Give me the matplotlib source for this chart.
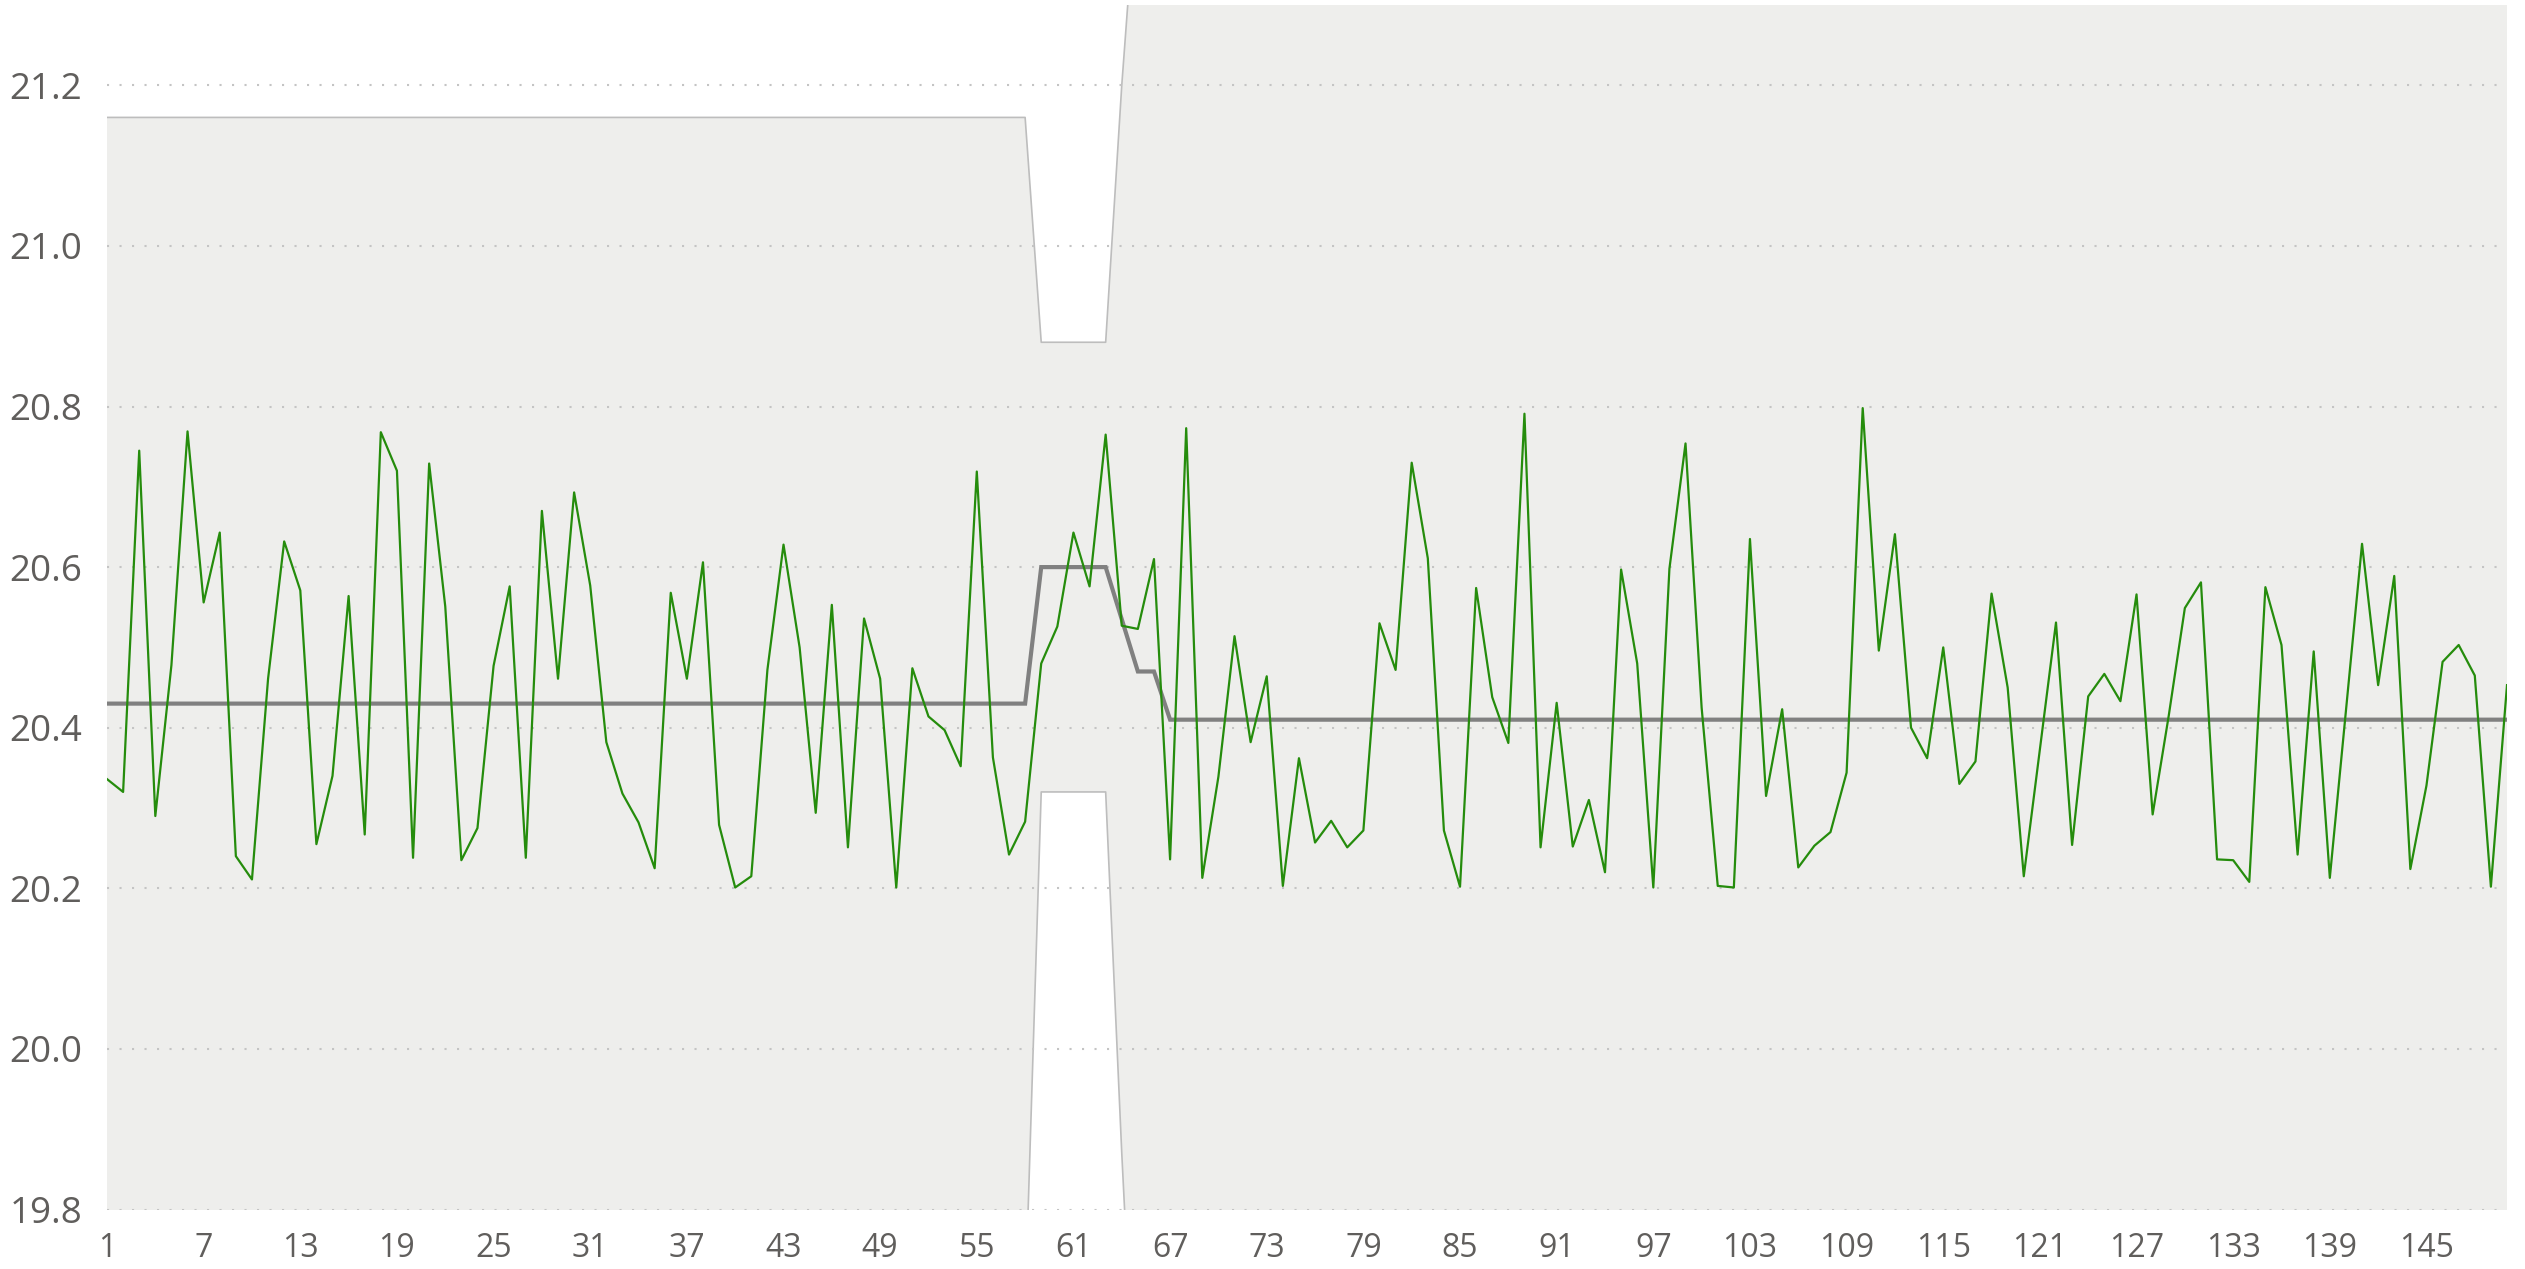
import matplotlib
matplotlib.use("Agg")
import matplotlib.pyplot as plt
from matplotlib.ticker import FixedLocator, FormatStrFormatter

# ---- data ----
values = [
    20.336, 20.320, 20.745, 20.290, 20.478, 20.769, 20.556, 20.643, 20.240, 20.211,
    20.461, 20.632, 20.571, 20.255, 20.340, 20.564, 20.267, 20.768, 20.720, 20.238,
    20.729, 20.551, 20.235, 20.275, 20.477, 20.576, 20.238, 20.670, 20.461, 20.693,
    20.577, 20.382, 20.318, 20.282, 20.225, 20.568, 20.461, 20.606, 20.279, 20.201,
    20.215, 20.472, 20.628, 20.500, 20.294, 20.553, 20.251, 20.536, 20.461, 20.201,
    20.474, 20.414, 20.397, 20.352, 20.719, 20.363, 20.242, 20.283, 20.480, 20.526,
    20.643, 20.576, 20.765, 20.527, 20.523, 20.610, 20.236, 20.773, 20.213, 20.339,
    20.514, 20.382, 20.464, 20.203, 20.362, 20.257, 20.284, 20.251, 20.272, 20.530,
    20.472, 20.730, 20.611, 20.272, 20.202, 20.574, 20.438, 20.381, 20.791, 20.251,
    20.431, 20.252, 20.310, 20.220, 20.597, 20.480, 20.201, 20.598, 20.754, 20.425,
    20.203, 20.201, 20.635, 20.315, 20.423, 20.226, 20.253, 20.270, 20.344, 20.798,
    20.496, 20.641, 20.400, 20.362, 20.500, 20.330, 20.358, 20.567, 20.450, 20.215,
    20.373, 20.531, 20.254, 20.439, 20.467, 20.433, 20.566, 20.292, 20.415, 20.549,
    20.581, 20.236, 20.235, 20.208, 20.575, 20.503, 20.242, 20.495, 20.213, 20.421,
    20.629, 20.453, 20.589, 20.224, 20.328, 20.482, 20.503, 20.465, 20.202, 20.453,
]
# (run length, value) segments for the control limits
center_segments = [(58, 20.43), (5, 20.60), (1, 20.535), (2, 20.47), (84, 20.41)]
upper_segments = [(58, 21.16), (5, 20.88), (1, 21.20), (2, 21.47), (84, 21.45)]
lower_segments = [(58, 19.68), (5, 20.32), (1, 19.87), (2, 19.47), (84, 19.37)]
x_ticks = [1, 7, 13, 19, 25, 31, 37, 43, 49, 55, 61, 67, 73, 79, 85, 91, 97, 103,
           109, 115, 121, 127, 133, 139, 145]
y_ticks = [19.8, 20.0, 20.2, 20.4, 20.6, 20.8, 21.0, 21.2]


def expand(segments):
    out = []
    for n, v in segments:
        out.extend([v] * n)
    return out


x = list(range(1, len(values) + 1))
center = expand(center_segments)
upper = expand(upper_segments)
lower = expand(lower_segments)

plt.rcParams['font.family'] = ['Open Sans', 'DejaVu Sans']

fig = plt.figure(figsize=(25.25, 12.69), dpi=100)
ax = fig.add_axes([107 / 2525, 59.5 / 1269, 2400 / 2525, 1204.5 / 1269])

ax.fill_between(x, lower, upper, color='#EEEEEC', linewidth=0, zorder=0.2)
ax.plot(x, upper, color='#BDBDBD', linewidth=1.2, zorder=0.3)
ax.plot(x, lower, color='#BDBDBD', linewidth=1.2, zorder=0.3)
ax.plot(x, center, color='#808080', linewidth=3.0, zorder=2.5,
        solid_joinstyle='miter')
ax.plot(x, values, color='#258C0C', linewidth=1.6, zorder=3)

ax.set_xlim(1, 150)
ax.set_ylim(19.8, 21.3)
ax.xaxis.set_major_locator(FixedLocator(x_ticks))
ax.yaxis.set_major_locator(FixedLocator(y_ticks))
ax.yaxis.set_major_formatter(FormatStrFormatter('%.1f'))

ax.set_axisbelow(True)
ax.yaxis.grid(True, color='#C4C4C4', linewidth=1.5, linestyle=(0, (1, 5)))
ax.xaxis.grid(False)
for s in ax.spines.values():
    s.set_visible(False)
ax.set_facecolor('white')

ax.tick_params(axis='y', length=0, pad=18, labelsize=26.5, labelcolor='#605E5C')
ax.tick_params(axis='x', length=0, pad=16, labelsize=23, labelcolor='#605E5C')

fig.savefig('out.png', dpi=100, facecolor='white')
